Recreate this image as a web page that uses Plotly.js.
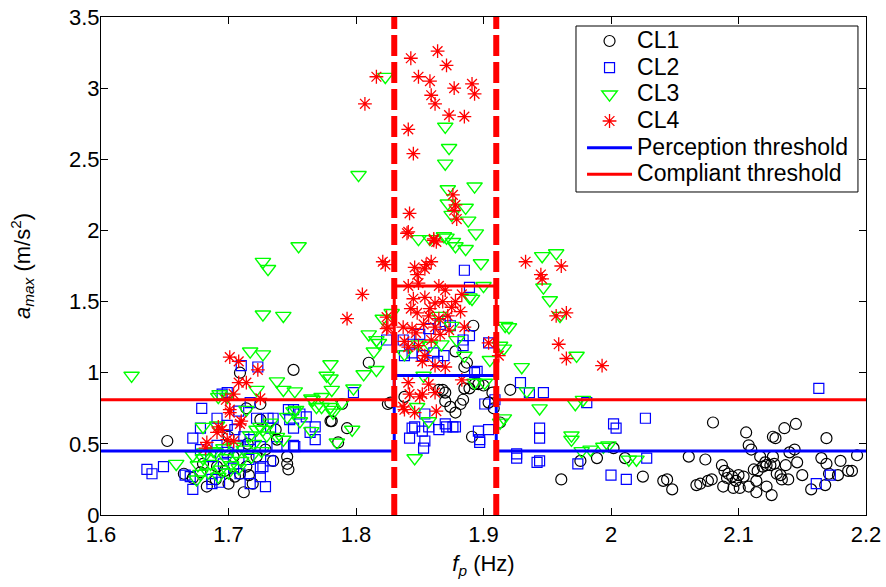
<!DOCTYPE html>
<html>
<head>
<meta charset="utf-8">
<script src="https://cdn.plot.ly/plotly-3.0.1.min.js"></script>
<style>html,body{margin:0;padding:0;background:#fff;}#chart{width:886px;height:587px;}</style>
</head>
<body>
<div id="chart"></div>
<script>
// ---- Data ----
const cl1_x = [1.652,1.751,1.709,1.712,1.683,1.665,1.700,1.719,1.709,1.746,1.746,1.747,1.725,1.725,1.781,1.793,1.789,1.738,1.714,1.672,1.678,1.690,1.697,1.705,1.716,1.722,1.704,1.691,1.714,1.680,1.735,1.729,1.737,1.700,1.715,
1.810,1.825,1.780,1.786,
1.892,1.878,1.887,1.885,1.865,1.870,1.885,1.893,1.900,1.870,1.874,1.878,1.882,1.908,1.904,1.827,1.891,1.838,1.889,1.896,1.907,1.913,1.884,1.921,1.868,
1.961,1.976,1.989,2.002,2.011,2.025,2.041,2.044,2.048,2.061,2.074,2.080,2.067,2.070,2.076,2.079,2.087,2.088,2.089,2.092,2.095,2.096,2.101,2.100,2.104,2.106,2.108,2.110,2.112,2.114,2.114,2.117,2.119,2.122,2.125,2.127,2.129,2.126,2.127,2.130,2.134,2.136,2.137,2.139,2.140,2.144,2.145,2.146,2.157,2.165,2.169,2.169,2.171,2.168,2.180,2.178,2.186,2.189,2.193,2.122,2.108,2.098,2.091,2.115,2.133,2.121,2.128,2.150];
const cl1_y = [0.52,1.02,1.00,0.16,0.20,0.29,0.22,0.22,0.29,0.41,0.36,0.32,0.78,0.67,0.66,0.61,0.78,0.53,0.75,0.26,0.30,0.25,0.31,0.27,0.28,0.41,0.41,0.34,0.34,0.36,0.38,0.46,0.60,0.55,0.50,
1.07,0.78,0.66,0.51,
1.33,1.15,1.07,1.04,0.88,0.86,0.89,0.92,0.91,0.80,0.76,0.72,0.78,0.75,0.79,0.79,0.55,0.83,0.89,0.92,0.86,0.65,0.81,0.88,0.88,
0.25,0.38,0.40,0.47,0.40,0.27,0.24,0.25,0.18,0.41,0.39,0.65,0.21,0.22,0.24,0.25,0.35,0.20,0.31,0.29,0.27,0.19,0.19,0.28,0.27,0.58,0.49,0.46,0.32,0.16,0.24,0.41,0.34,0.35,0.35,0.55,0.54,0.14,0.41,0.29,0.25,0.61,0.35,0.25,0.44,0.46,0.64,0.37,0.18,0.40,0.54,0.36,0.29,0.21,0.38,0.28,0.31,0.31,0.42,0.20,0.20,0.24,0.26,0.31,0.28,0.37,0.36,0.28];

const cl2_x = [1.636,1.640,1.649,1.672,1.679,1.672,1.678,1.666,1.687,1.693,1.709,1.717,1.729,1.733,1.725,1.699,1.710,1.723,1.735,1.748,1.751,1.756,1.761,1.768,1.768,1.752,1.798,1.695,1.678,1.691,1.699,1.708,1.717,1.725,1.731,1.733,1.738,1.747,1.751,1.751,1.727,1.725,1.687,1.670,1.699,1.691,1.708,1.717,1.722,1.705,1.712,1.716,1.696,1.704,1.686,1.824,1.764,
1.885,1.889,1.874,1.889,1.904,1.869,1.884,1.838,1.844,1.852,1.861,1.864,1.837,1.842,1.850,1.857,1.866,1.870,1.884,1.893,1.901,1.909,1.896,1.897,1.852,1.842,1.846,1.857,1.865,1.871,1.876,1.854,1.854,1.844,1.853,1.870,1.878,1.897,1.904,1.895,
1.929,1.947,1.936,1.944,1.944,1.926,1.926,1.942,1.974,1.944,1.981,2.000,2.002,2.004,2.012,2.027,2.028,2.163,2.161,2.172];
const cl2_y = [0.32,0.29,0.34,0.18,0.75,0.54,0.61,0.28,0.25,0.23,0.29,0.22,0.20,0.38,0.33,0.86,1.05,1.04,0.68,0.67,0.74,0.71,0.69,0.62,0.53,0.48,0.86,0.85,0.46,0.49,0.44,0.49,0.53,0.48,0.68,0.61,0.48,0.74,0.61,0.49,0.34,0.27,0.22,0.27,0.63,0.68,0.73,0.79,0.68,0.60,0.55,0.39,0.36,0.33,0.41,1.23,0.58,
1.72,1.60,1.33,1.26,1.21,1.12,1.19,1.12,1.14,1.12,1.14,1.08,1.23,1.20,1.27,1.31,1.34,1.36,1.23,1.00,0.78,0.81,0.59,0.53,0.59,0.54,0.62,0.62,0.60,0.62,0.62,0.52,0.71,0.61,0.47,0.64,0.62,0.51,0.60,1.01,
0.93,0.86,0.86,0.61,0.54,0.43,0.40,0.37,0.36,0.38,0.79,0.28,0.64,0.61,0.25,0.68,0.40,0.89,0.22,0.28];

const cl3_x = [1.823,1.870,1.873,1.870,1.802,1.893,1.872,1.872,1.886,1.875,1.888,1.894,1.849,1.858,1.871,1.878,1.886,1.898,1.900,1.891,1.869,1.876,1.889,1.828,1.865,1.875,1.838,1.849,1.867,1.879,1.885,1.893,1.901,1.857,1.916,1.917,1.913,1.853,1.848,1.846,1.858,
1.946,1.957,1.947,1.952,1.960,1.920,1.916,1.973,1.978,1.972,1.944,1.969,1.969,1.977,1.984,1.994,1.998,2.014,2.020,1.930,1.934,1.913,1.905,
1.821,1.810,1.816,1.814,1.818,1.806,1.816,1.780,1.797,1.785,1.789,1.780,1.755,1.727,1.731,1.727,1.743,1.717,1.727,1.780,1.738,1.743,1.752,1.722,1.781,1.798,1.765,1.773,1.769,1.781,1.753,1.746,1.756,1.765,1.727,1.738,1.743,
1.624,1.777,1.766,1.693,1.714,1.725,1.733,1.751,1.773,1.782,1.659,1.678,1.675,1.692,1.699,1.680,1.691,1.717,
1.672,1.680,1.686,1.690,1.694,1.698,1.702,1.706,1.710,1.684,1.692,1.700,1.712,1.718,1.688,1.696,1.676,1.704,1.720,1.726,1.681,1.708,1.730,1.722];
const cl3_y = [3.08,2.73,2.58,2.47,2.39,2.31,2.29,2.19,2.16,2.11,2.07,1.98,1.94,1.94,1.95,1.89,1.87,1.77,1.61,1.52,1.96,1.92,1.53,1.42,1.40,1.33,1.13,1.20,1.20,1.23,1.12,0.93,0.93,0.66,0.68,1.33,1.19,0.98,0.76,0.40,1.19,
1.82,1.84,1.60,1.51,1.40,1.32,1.17,1.12,0.81,0.78,0.75,0.56,0.53,0.45,0.46,0.48,0.49,0.39,0.39,1.04,0.87,0.65,1.09,
1.38,1.27,1.23,1.15,1.21,0.99,1.02,1.06,0.60,0.51,0.79,0.76,1.89,1.78,1.73,1.41,1.40,1.15,1.13,0.96,0.94,0.88,0.87,0.88,0.88,0.89,0.82,0.83,0.76,0.74,0.74,0.69,0.66,0.59,0.60,0.55,0.53,
0.98,0.98,0.81,0.85,0.74,0.62,0.65,0.73,0.76,0.72,0.36,0.29,0.25,0.83,0.83,0.62,0.63,0.56,
0.42,0.40,0.36,0.44,0.32,0.40,0.35,0.43,0.38,0.30,0.27,0.30,0.46,0.41,0.45,0.47,0.35,0.48,0.50,0.45,0.44,0.33,0.56,0.60];

const cl4_x = [1.816,1.807,1.843,1.864,1.871,1.849,1.858,1.859,1.862,1.877,1.891,1.893,1.873,1.885,1.841,1.845,1.876,1.878,1.877,1.879,1.842,1.841,1.861,1.863,1.821,1.805,1.793,1.824,1.824,
1.933,1.945,1.946,1.961,1.957,1.965,1.959,1.965,1.993,
1.701,1.708,1.723,1.708,1.714,1.704,1.725,1.698,1.701,1.701,1.709,1.692,1.695,1.691,1.699,1.704,1.683,1.682,1.710,
1.840,1.861,1.846,1.855,1.859,1.823,1.841,1.849,1.865,1.870,1.883,1.845,1.854,1.862,1.875,1.882,1.848,1.857,1.865,1.825,1.837,1.844,1.853,1.862,1.885,1.838,1.849,1.859,1.904,1.912,1.854,1.852,1.862,1.870,1.841,1.857,1.862,1.842,1.852,1.838,1.846,1.863,1.883,1.841,1.850,1.837,1.854,1.848,1.868,1.858,1.872,1.843,1.878,1.866,1.847,1.873];
const cl4_y = [3.08,2.89,3.21,3.26,3.16,3.08,3.05,2.95,2.89,3.00,3.03,2.96,2.81,2.80,2.71,2.54,2.25,2.18,2.14,2.08,2.12,1.99,1.94,1.92,1.78,1.55,1.38,1.39,1.31,
1.78,1.69,1.66,1.75,1.40,1.42,1.20,1.10,1.05,
1.11,1.08,1.02,0.93,0.93,0.85,0.82,0.81,0.74,0.72,0.64,0.62,0.60,0.58,0.53,0.52,0.51,0.47,0.66,
1.98,1.93,1.74,1.76,1.78,1.76,1.61,1.63,1.61,1.58,1.55,1.52,1.53,1.49,1.46,1.43,1.42,1.40,1.38,1.32,1.32,1.31,1.34,1.32,1.32,1.22,1.19,1.23,1.21,1.12,1.12,1.08,1.05,1.04,0.93,0.92,0.86,0.85,0.85,0.74,0.72,0.73,0.95,1.18,0.83,0.76,1.73,1.69,1.50,1.45,1.40,1.45,1.50,1.27,1.28,1.30];

// threshold step lines
const thr_x = [1.6,1.83,1.83,1.91,1.91,2.2];
const perception_y = [0.45,0.45,0.98,0.98,0.45,0.45];
const compliant_y = [0.81,0.81,1.61,1.61,0.81,0.81];
const band_x = [1.83,1.91];
const band_y = [0,3.5];

const series_names = ['CL1','CL2','CL3','CL4','Perception threshold','Compliant threshold'];
const xtick_vals = [1.6,1.7,1.8,1.9,2.0,2.1,2.2];
const xtick_text = ['1.6','1.7','1.8','1.9','2','2.1','2.2'];
const ytick_vals = [0,0.5,1,1.5,2,2.5,3,3.5];
const ytick_text = ['0','0.5','1','1.5','2','2.5','3','3.5'];

const FONT = 'Arial, "Liberation Sans", sans-serif';
const lg = s => '<span style="font-size:23px">' + s + '</span>';

const traces = [
  {x: cl1_x, y: cl1_y, type:'scatter', mode:'markers', name: lg(series_names[0]),
   marker:{symbol:'circle-open', size:11, color:'#000000', line:{width:1.2, color:'#000000'}}},
  {x: cl2_x, y: cl2_y, type:'scatter', mode:'markers', name: lg(series_names[1]),
   marker:{symbol:'square-open', size:10, color:'#0000ff', line:{width:1.2, color:'#0000ff'}}},
  {x: cl3_x, y: cl3_y, type:'scatter', mode:'markers', name: lg(series_names[2]),
   marker:{symbol:'triangle-down-open', size:13.5, color:'#00ff00', line:{width:1.4, color:'#00ff00'}}},
  {x: cl4_x, y: cl4_y, type:'scatter', mode:'markers', name: lg(series_names[3]),
   marker:{symbol:'asterisk-open', size:11.5, color:'#ff0000', line:{width:1.3, color:'#ff0000'}}},
  {x: thr_x, y: perception_y, type:'scatter', mode:'lines', name: lg(series_names[4]),
   line:{color:'#0000ff', width:3}},
  {x: thr_x, y: compliant_y, type:'scatter', mode:'lines', name: lg(series_names[5]),
   line:{color:'#ff0000', width:3}},
  {x: [band_x[0], band_x[0]], y: band_y, type:'scatter', mode:'lines', showlegend:false,
   line:{color:'#ff0000', width:6, dash:'21px,6px'}},
  {x: [band_x[1], band_x[1]], y: band_y, type:'scatter', mode:'lines', showlegend:false,
   line:{color:'#ff0000', width:6, dash:'21px,6px'}}
];

const layout = {
  width: 886, height: 587,
  margin: {l:101, r:20, t:17, b:72, pad:0},
  paper_bgcolor:'#ffffff', plot_bgcolor:'#ffffff',
  font: {family: FONT, size: 22, color:'#000000'},
  showlegend: true,
  legend: {x: 0.6288, y: 0.9886, xanchor:'left', yanchor:'top',
    bgcolor:'rgba(0,0,0,0)', borderwidth:0,
    font:{family: FONT, size: 18.2, color:'#000000'}, itemwidth: 45, tracegroupgap: 0},
  shapes: [
    {type:'rect', xref:'paper', yref:'paper', x0:0.6209, x1:0.9895, y0:0.6486, y1:0.9819,
     line:{color:'#000000', width:1}, fillcolor:'#ffffff', layer:'above'}
  ],
  xaxis: {range:[1.6,2.2], tickvals: xtick_vals, ticktext: xtick_text,
    ticks:'inside', ticklen:7, tickwidth:1, tickcolor:'#000000',
    showline:true, linecolor:'#000000', linewidth:1, mirror:'ticks',
    showgrid:false, zeroline:false,
    tickfont:{family: FONT, size:22, color:'#000000'},
    title:{text:'<i>f</i><sub><i>p</i></sub> (Hz)', font:{family: FONT, size:22, color:'#000000'}, standoff: 9}},
  yaxis: {range:[0,3.5], tickvals: ytick_vals, ticktext: ytick_text,
    ticks:'inside', ticklen:7, tickwidth:1, tickcolor:'#000000',
    showline:true, linecolor:'#000000', linewidth:1, mirror:'ticks',
    showgrid:false, zeroline:false, ticklabelstandoff: -4,
    tickfont:{family: FONT, size:22, color:'#000000'},
    title:{text:'<i>a</i><sub><i>max</i></sub> (m/s<sup>2</sup>)', font:{family: FONT, size:22, color:'#000000'}, standoff: 32}}
};

Plotly.newPlot('chart', traces, layout, {staticPlot:true, displayModeBar:false});
</script>
</body>
</html>
